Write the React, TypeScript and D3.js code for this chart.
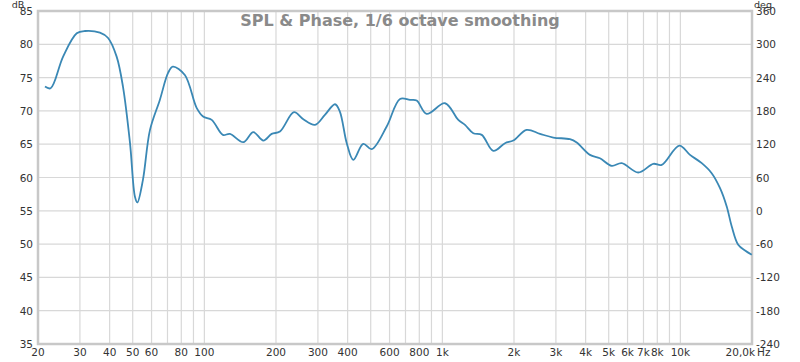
import React from "react";
import * as d3 from "d3";

const freqs = [21.4, 22.6, 25.5, 29.1, 31.5, 36.4, 39.4, 42.8, 45.5, 48.7, 51.1, 52.3, 55.2, 59.1, 65.0, 70.4, 73.7, 82.8, 92.8, 98.8, 107.4, 119.6, 128, 145.8, 160.6, 177, 191.8, 207.8, 238, 260.5, 291.6, 321, 354, 371, 396.6, 422.6, 465, 505, 583.6, 664, 731, 780, 859, 1026, 1167, 1245, 1349, 1464, 1637, 1833, 1986, 2260, 2572, 2926, 3437, 3669, 4170, 4593, 5146, 5670, 6654, 7697, 8350, 9900, 10980, 12300, 13540, 14680, 15660, 16440, 17500, 18700, 19950];
const spl = [73.65, 73.4, 78.15, 81.65, 82.0, 81.75, 80.95, 78.15, 73.65, 65.2, 57.1, 56.25, 59.65, 67.15, 71.65, 75.7, 76.65, 75.4, 70.45, 69.15, 68.65, 66.4, 66.55, 65.3, 66.8, 65.55, 66.55, 66.9, 69.8, 68.75, 67.9, 69.4, 71.0, 69.9, 65.15, 62.65, 65.05, 64.25, 67.65, 71.8, 71.65, 71.55, 69.55, 71.15, 68.65, 67.9, 66.65, 66.4, 64.0, 65.15, 65.55, 67.15, 66.55, 66.0, 65.75, 65.25, 63.4, 62.9, 61.75, 62.15, 60.75, 62.05, 61.9, 64.8, 63.4, 62.15, 60.65, 58.4, 55.65, 52.65, 49.9, 49.05, 48.4];

const gridFreqs = [20, 30, 40, 50, 60, 70, 80, 90, 100, 200, 300, 400, 500, 600, 700, 800, 900, 1000, 2000, 3000, 4000, 5000, 6000, 7000, 8000, 9000, 10000, 20000];
const xTickFreqs = [20, 30, 40, 50, 60, 80, 100, 200, 300, 400, 600, 800, 1000, 2000, 3000, 4000, 5000, 6000, 7000, 8000, 10000];
const xTickLabels = ["20", "30", "40", "50", "60", "80", "100", "200", "300", "400", "600", "800", "1k", "2k", "3k", "4k", "5k", "6k", "7k", "8k", "10k"];
const dbTicks = [85, 80, 75, 70, 65, 60, 55, 50, 45, 40, 35];
const degTicks = [360, 300, 240, 180, 120, 60, 0, -60, -120, -180, -240];

const W = 800, H = 362;
const L = 38, R = 752, T = 11, B = 344;

export default function App() {
  const x = d3.scaleLog().domain([20, 20000]).range([L, R]);
  const y = d3.scaleLinear().domain([35, 85]).range([B, T]);
  const yDeg = d3.scaleLinear().domain([-240, 360]).range([B, T]);
  const pts: [number, number][] = freqs.map((f, i) => [x(f), y(spl[i])]);
  const line = d3.line().curve(d3.curveCatmullRom.alpha(0.5))(pts) || "";
  const font = "'DejaVu Sans', Verdana, sans-serif";
  const labelColor = "#333";
  return (
    <svg width={W} height={H} style={{ position: "absolute", left: 0, top: 0, background: "#fff" }}>
      <rect x={0} y={0} width={W} height={H} fill="#fff" />
      {gridFreqs.map((f) => (
        <line key={"gx" + f} x1={x(f)} x2={x(f)} y1={T} y2={B} stroke="#d8d8d8" strokeWidth={1.2} />
      ))}
      {dbTicks.map((d) => (
        <line key={"gy" + d} x1={L} x2={R} y1={y(d)} y2={y(d)} stroke="#d8d8d8" strokeWidth={1.2} />
      ))}
      <text x={400} y={26} textAnchor="middle" fontFamily={font} fontWeight="bold" fontSize={16} fill="#8a8a8a">
        SPL &amp; Phase, 1/6 octave smoothing
      </text>
      <rect x={L} y={T} width={R - L} height={B - T} fill="none" stroke="#c8c8c8" strokeWidth={2.5} />
      <path d={line} fill="none" stroke="#3a88b5" strokeWidth={1.8} />
      {dbTicks.map((d) => (
        <text key={"ly" + d} x={33} y={y(d) + 4} textAnchor="end" fontFamily={font} fontSize={10.5} fill={labelColor}>
          {d}
        </text>
      ))}
      <text x={18} y={8} textAnchor="middle" fontFamily={font} fontSize={9.5} fill={labelColor}>dB</text>
      {degTicks.map((d) => (
        <text key={"ry" + d} x={756} y={yDeg(d) + 4} textAnchor="start" fontFamily={font} fontSize={10.5} fill={labelColor}>
          {d}
        </text>
      ))}
      <text x={763} y={8} textAnchor="middle" fontFamily={font} fontSize={9.5} fill={labelColor}>deg</text>
      {xTickFreqs.map((f, i) => (
        <text key={"lx" + f} x={x(f)} y={356} textAnchor="middle" fontFamily={font} fontSize={10.5} fill={labelColor}>
          {xTickLabels[i]}
        </text>
      ))}
      <text x={755} y={356} textAnchor="end" fontFamily={font} fontSize={10.5} fill={labelColor}>20,0k</text>
      <text x={757} y={356} textAnchor="start" fontFamily={font} fontSize={10.5} fill={labelColor}>Hz</text>
    </svg>
  );
}
